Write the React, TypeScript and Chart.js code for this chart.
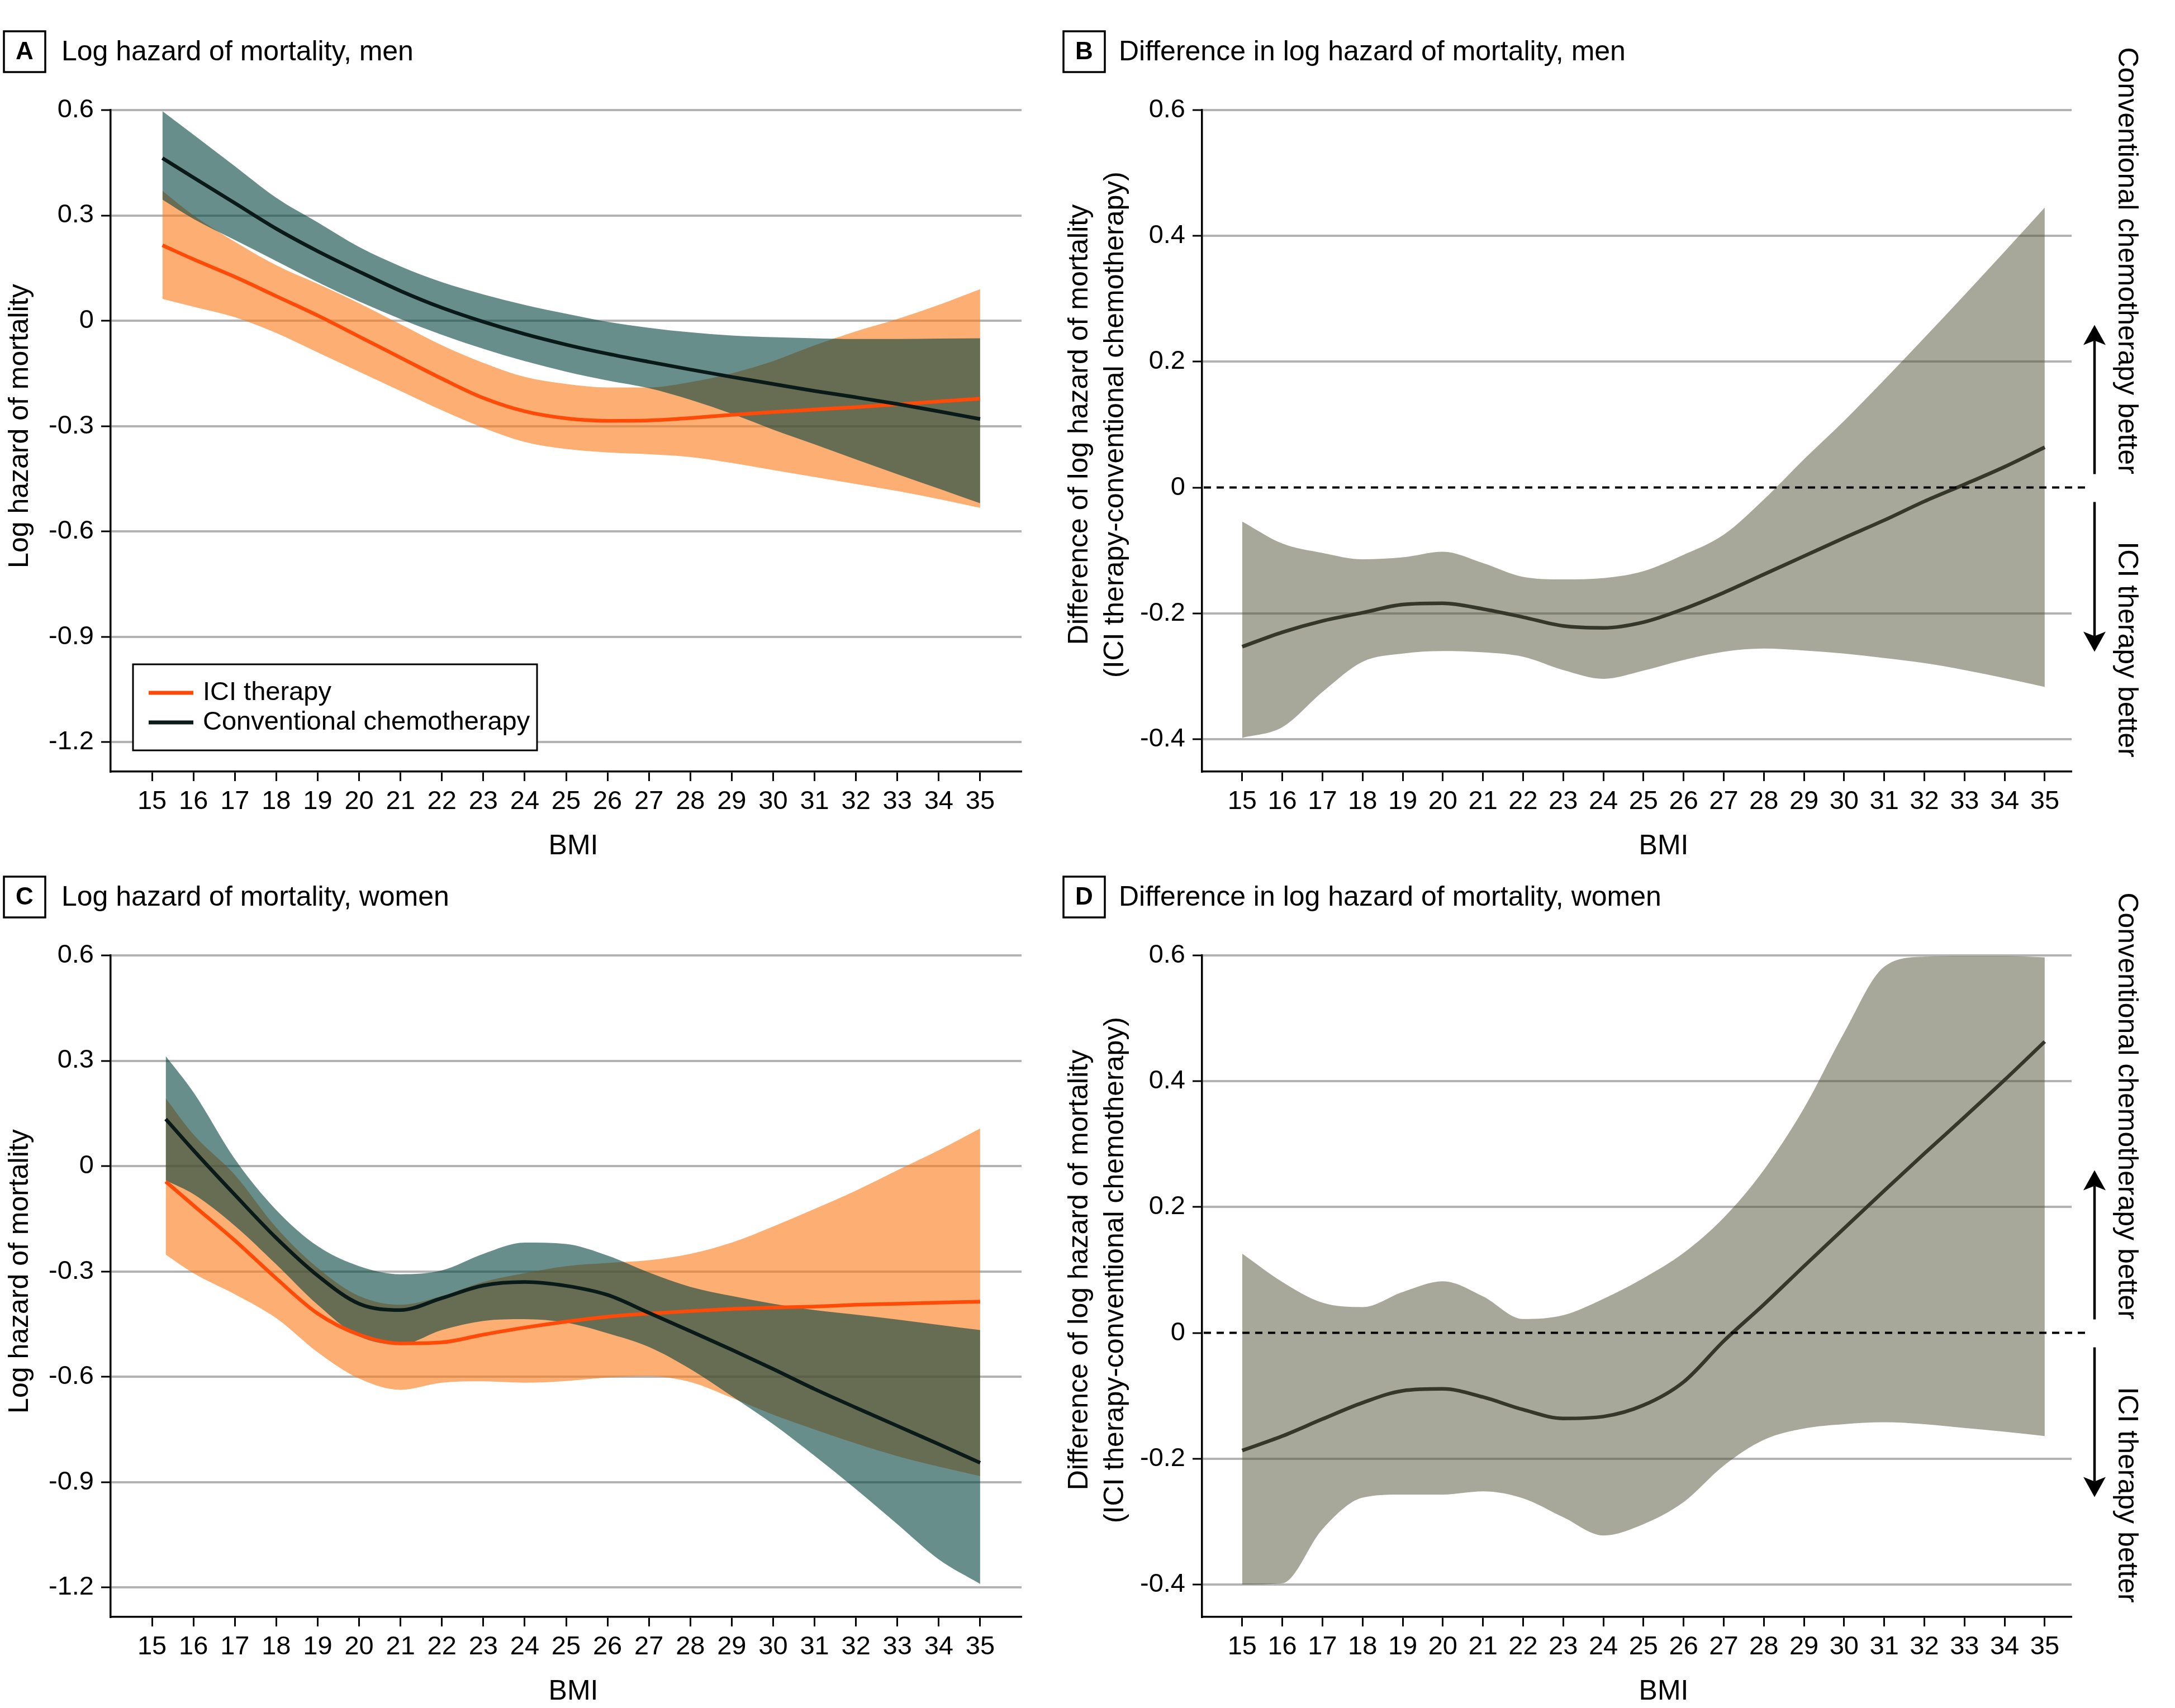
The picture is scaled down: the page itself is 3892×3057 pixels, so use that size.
import React, { useEffect, useRef } from "react";
import { Chart, registerables } from "chart.js";

Chart.register(...registerables);

const FONT = "'Liberation Sans', Arial, Helvetica, sans-serif";

// ---------- tick definitions ----------
const bmiTicks = [15, 16, 17, 18, 19, 20, 21, 22, 23, 24, 25, 26, 27, 28, 29, 30, 31, 32, 33, 34, 35];
const hazardTicks = [-1.2, -0.9, -0.6, -0.3, 0, 0.3, 0.6];
const hazardTickLabels = ["-1.2", "-0.9", "-0.6", "-0.3", "0", "0.3", "0.6"];
const diffTicks = [-0.4, -0.2, 0, 0.2, 0.4, 0.6];
const diffTickLabels = ["-0.4", "-0.2", "0", "0.2", "0.4", "0.6"];

// ---------- Panel A: men, log hazard ----------
const bmiMen = [15.25, 16, 17, 18, 19, 20, 21, 22, 23, 24, 25, 26, 27, 28, 29, 30, 31, 32, 33, 34, 35];
const menIciEst = [0.215, 0.175, 0.125, 0.07, 0.015, -0.045, -0.105, -0.165, -0.22, -0.258, -0.278, -0.285, -0.284, -0.277, -0.268, -0.26, -0.253, -0.246, -0.238, -0.23, -0.222];
const menIciHigh = [0.37, 0.3, 0.225, 0.158, 0.105, 0.05, -0.01, -0.07, -0.12, -0.16, -0.18, -0.19, -0.19, -0.175, -0.15, -0.115, -0.07, -0.03, 0.005, 0.045, 0.09];
const menIciLow = [0.062, 0.04, 0.01, -0.035, -0.09, -0.145, -0.2, -0.255, -0.305, -0.345, -0.365, -0.375, -0.38, -0.388, -0.405, -0.425, -0.445, -0.465, -0.485, -0.508, -0.533];
const menChemoEst = [0.463, 0.408, 0.335, 0.262, 0.198, 0.14, 0.085, 0.037, -0.003, -0.038, -0.068, -0.094, -0.117, -0.139, -0.16, -0.18, -0.2, -0.218, -0.237, -0.258, -0.28];
const menChemoHigh = [0.597, 0.53, 0.44, 0.35, 0.28, 0.21, 0.155, 0.11, 0.075, 0.045, 0.02, -0.003, -0.02, -0.033, -0.042, -0.047, -0.05, -0.052, -0.052, -0.051, -0.05];
const menChemoLow = [0.345, 0.29, 0.23, 0.17, 0.11, 0.055, 0.005, -0.04, -0.08, -0.115, -0.145, -0.17, -0.192, -0.225, -0.265, -0.31, -0.352, -0.395, -0.437, -0.478, -0.52];

// ---------- Panel C: women, log hazard ----------
const bmiWomen = [15.33, 16, 17, 18, 19, 20, 21, 22, 23, 24, 25, 26, 27, 28, 29, 30, 31, 32, 33, 34, 35];
const womenIciEst = [-0.044, -0.112, -0.212, -0.32, -0.42, -0.48, -0.505, -0.502, -0.48, -0.46, -0.443, -0.429, -0.42, -0.413, -0.407, -0.403, -0.4, -0.395, -0.392, -0.389, -0.386];
const womenIciHigh = [0.193, 0.09, -0.025, -0.175, -0.29, -0.37, -0.395, -0.37, -0.33, -0.305, -0.285, -0.276, -0.268, -0.25, -0.218, -0.172, -0.122, -0.07, -0.012, 0.045, 0.107];
const womenIciLow = [-0.252, -0.305, -0.365, -0.433, -0.53, -0.605, -0.637, -0.617, -0.613, -0.617, -0.612, -0.602, -0.598, -0.615, -0.66, -0.708, -0.75, -0.79, -0.826, -0.856, -0.883];
const womenChemoEst = [0.134, 0.045, -0.082, -0.205, -0.312, -0.392, -0.41, -0.376, -0.34, -0.33, -0.341, -0.367, -0.418, -0.47, -0.523, -0.578, -0.635, -0.688, -0.74, -0.792, -0.845];
const womenChemoHigh = [0.313, 0.21, 0.02, -0.125, -0.228, -0.285, -0.308, -0.297, -0.25, -0.218, -0.222, -0.255, -0.303, -0.344, -0.37, -0.392, -0.41, -0.423, -0.437, -0.452, -0.467];
const womenChemoLow = [-0.041, -0.08, -0.17, -0.28, -0.395, -0.485, -0.508, -0.467, -0.441, -0.436, -0.446, -0.476, -0.515, -0.578, -0.655, -0.735, -0.825, -0.92, -1.02, -1.12, -1.19];

// ---------- Panels B / D: difference ----------
const bmiDiff = [15, 16, 17, 18, 19, 20, 21, 22, 23, 24, 25, 26, 27, 28, 29, 30, 31, 32, 33, 34, 35];
const menDiffEst = [-0.253, -0.23, -0.212, -0.199, -0.186, -0.184, -0.193, -0.206, -0.22, -0.223, -0.214, -0.193, -0.167, -0.138, -0.109, -0.08, -0.052, -0.022, 0.005, 0.033, 0.064];
const menDiffHigh = [-0.054, -0.089, -0.104, -0.114, -0.111, -0.102, -0.12, -0.142, -0.146, -0.144, -0.133, -0.107, -0.075, -0.019, 0.045, 0.106, 0.171, 0.238, 0.306, 0.375, 0.445];
const menDiffLow = [-0.398, -0.381, -0.325, -0.277, -0.264, -0.26, -0.262, -0.269, -0.29, -0.304, -0.291, -0.274, -0.261, -0.256, -0.259, -0.264, -0.271, -0.279, -0.29, -0.303, -0.317];
const womenDiffEst = [-0.187, -0.164, -0.137, -0.111, -0.092, -0.089, -0.102, -0.122, -0.136, -0.133, -0.115, -0.078, -0.013, 0.045, 0.106, 0.166, 0.226, 0.285, 0.343, 0.402, 0.463];
const womenDiffHigh = [0.126, 0.081, 0.048, 0.041, 0.065, 0.082, 0.058, 0.022, 0.028, 0.054, 0.087, 0.127, 0.183, 0.259, 0.357, 0.477, 0.582, 0.598, 0.599, 0.599, 0.597];
const womenDiffLow = [-0.4, -0.398, -0.312, -0.262, -0.257, -0.257, -0.252, -0.263, -0.293, -0.322, -0.304, -0.269, -0.211, -0.17, -0.152, -0.145, -0.142, -0.145, -0.151, -0.157, -0.164];

// ---------- styles ----------
const CHEMO_LINE = "#0a1a19";
const ICI_LINE = "#ff4a08";
const TEAL_BAND = "rgba(3,67,63,0.6)";
const ORANGE_BAND = "rgba(251,120,20,0.6)";
const DIFF_BAND = "rgba(79,81,51,0.5)";
const DIFF_LINE = "#35372a";
const GRID = "#b3b3b3";

const CANVAS_H = 1544;
const PLOT_TOP = 197;
const PLOT_BOTTOM = 1381;

const pts = (xs: number[], ys: number[]) => xs.map((x, i) => ({ x, y: ys[i] }));

type Decor = {
  letter: string;
  title: string;
  boxX: number;
  titleX: number;
  yTitle: string[];
  yTitleX: number[];
  bmiX: number;
  legend: boolean;
  annotations: boolean;
  lowestTick: number;
};

function drawArrow(ctx: CanvasRenderingContext2D, x: number, yStart: number, yTip: number) {
  const dir = yTip < yStart ? -1 : 1;
  const headLen = 36;
  const headW = 20;
  const notch = 8;
  ctx.lineWidth = 4.5;
  ctx.beginPath();
  ctx.moveTo(x, yStart);
  ctx.lineTo(x, yTip - dir * (headLen - notch));
  ctx.stroke();
  ctx.beginPath();
  ctx.moveTo(x, yTip);
  ctx.lineTo(x - headW, yTip - dir * headLen);
  ctx.lineTo(x, yTip - dir * (headLen - notch));
  ctx.lineTo(x + headW, yTip - dir * headLen);
  ctx.closePath();
  ctx.fill();
}

function decorPlugin(d: Decor) {
  return {
    id: "decor",
    afterDatasetsDraw(chart: any) {
      if (!d.annotations) return;
      const { ctx, chartArea, scales } = chart;
      const y0 = scales.y.getPixelForValue(0);
      ctx.save();
      ctx.strokeStyle = "#000";
      ctx.lineWidth = 4;
      ctx.setLineDash([13, 10]);
      ctx.beginPath();
      ctx.moveTo(chartArea.left + 3, y0);
      ctx.lineTo(chartArea.right + 29, y0);
      ctx.stroke();
      ctx.restore();
    },
    afterDraw(chart: any) {
      const { ctx, chartArea, scales } = chart;
      ctx.save();
      ctx.fillStyle = "#000";
      ctx.strokeStyle = "#000";
      // header
      ctx.lineWidth = 3.5;
      ctx.strokeRect(d.boxX, 56, 74, 73);
      ctx.font = `bold 44px ${FONT}`;
      ctx.textAlign = "center";
      ctx.textBaseline = "middle";
      ctx.fillText(d.letter, d.boxX + 37, 94);
      ctx.font = `50px ${FONT}`;
      ctx.textAlign = "left";
      ctx.fillText(d.title, d.titleX, 94);
      // y-axis title
      const yTop = scales.y.getPixelForValue(0.6);
      const yBot = scales.y.getPixelForValue(d.lowestTick);
      const yc = (yTop + yBot) / 2;
      d.yTitle.forEach((t, i) => {
        ctx.save();
        ctx.translate(d.yTitleX[i], yc);
        ctx.rotate(-Math.PI / 2);
        ctx.textAlign = "center";
        ctx.textBaseline = "middle";
        ctx.font = `50px ${FONT}`;
        ctx.fillText(t, 0, 0);
        ctx.restore();
      });
      // x-axis title
      ctx.textAlign = "center";
      ctx.textBaseline = "middle";
      ctx.font = `50px ${FONT}`;
      ctx.fillText("BMI", d.bmiX, 1515);
      // legend
      if (d.legend) {
        ctx.fillStyle = "#fff";
        ctx.fillRect(238, 1189, 723, 154);
        ctx.lineWidth = 3;
        ctx.strokeStyle = "#000";
        ctx.strokeRect(238, 1189, 723, 154);
        ctx.lineWidth = 7;
        ctx.strokeStyle = ICI_LINE;
        ctx.beginPath();
        ctx.moveTo(266, 1240);
        ctx.lineTo(346, 1240);
        ctx.stroke();
        ctx.strokeStyle = CHEMO_LINE;
        ctx.beginPath();
        ctx.moveTo(266, 1293);
        ctx.lineTo(346, 1293);
        ctx.stroke();
        ctx.fillStyle = "#000";
        ctx.textAlign = "left";
        ctx.font = `47px ${FONT}`;
        ctx.fillText("ICI therapy", 363, 1240);
        ctx.fillText("Conventional chemotherapy", 363, 1293);
      }
      // right-side annotations
      if (d.annotations) {
        const y0 = scales.y.getPixelForValue(0);
        const ax = chartArea.right + 41;
        ctx.fillStyle = "#000";
        ctx.strokeStyle = "#000";
        drawArrow(ctx, ax, y0 - 24, y0 - 291);
        drawArrow(ctx, ax, y0 + 26, y0 + 294);
        const tx = chartArea.right + 98;
        const texts: [string, number][] = [
          ["Conventional chemotherapy better", y0 - 406],
          ["ICI therapy better", y0 + 290],
        ];
        texts.forEach(([t, y]) => {
          ctx.save();
          ctx.translate(tx, y);
          ctx.rotate(Math.PI / 2);
          ctx.textAlign = "center";
          ctx.textBaseline = "middle";
          ctx.font = `50px ${FONT}`;
          ctx.fillText(t, 0, 0);
          ctx.restore();
        });
      }
      ctx.restore();
    },
  };
}

function buildScales(opts: { xMax: number; yMin: number; yTicks: number[]; yLabels: string[]; yWidth: number; hideZeroGrid: boolean }) {
  return {
    x: {
      type: "linear",
      min: 14,
      max: opts.xMax,
      afterBuildTicks: (s: any) => {
        s.ticks = bmiTicks.map((v) => ({ value: v }));
      },
      afterFit: (s: any) => {
        s.height = CANVAS_H - PLOT_BOTTOM;
      },
      grid: { display: true, drawOnChartArea: false, drawTicks: true, tickLength: 17, tickColor: "#000", tickWidth: 3 },
      border: { display: true, color: "#000", width: 3.5 },
      ticks: {
        color: "#000",
        font: { family: FONT, size: 47 },
        padding: 9,
        autoSkip: false,
        maxRotation: 0,
        minRotation: 0,
        callback: (v: any) => String(v),
      },
      title: { display: false },
    },
    y: {
      type: "linear",
      min: opts.yMin,
      max: 0.6,
      afterBuildTicks: (s: any) => {
        s.ticks = opts.yTicks.map((v) => ({ value: v }));
      },
      afterFit: (s: any) => {
        s.width = opts.yWidth;
      },
      grid: {
        display: true,
        drawOnChartArea: true,
        drawTicks: true,
        tickLength: 17,
        tickColor: "#000",
        tickWidth: 3,
        lineWidth: 4,
        color: (c: any) => (opts.hideZeroGrid && c.tick && c.tick.value === 0 ? "rgba(0,0,0,0)" : GRID),
      },
      border: { display: true, color: "#000", width: 3.5 },
      ticks: {
        color: "#000",
        font: { family: FONT, size: 47 },
        padding: 13,
        callback: (_v: any, i: number) => opts.yLabels[i],
      },
      title: { display: false },
    },
  };
}

const lineBase = { pointRadius: 0, pointHoverRadius: 0, cubicInterpolationMode: "monotone", tension: 0.4 };

function hazardConfig(p: {
  bmi: number[];
  iciEst: number[];
  iciHigh: number[];
  iciLow: number[];
  chemoEst: number[];
  chemoHigh: number[];
  chemoLow: number[];
  decor: Decor;
}) {
  return {
    type: "line",
    data: {
      datasets: [
        { ...lineBase, label: "Conventional chemotherapy", data: pts(p.bmi, p.chemoEst), borderColor: CHEMO_LINE, borderWidth: 6.5, fill: false },
        { ...lineBase, label: "ICI therapy", data: pts(p.bmi, p.iciEst), borderColor: ICI_LINE, borderWidth: 6.5, fill: false },
        { ...lineBase, label: "Conventional chemotherapy upper", data: pts(p.bmi, p.chemoHigh), borderColor: "rgba(0,0,0,0)", borderWidth: 0, backgroundColor: TEAL_BAND, fill: "+1" },
        { ...lineBase, label: "Conventional chemotherapy lower", data: pts(p.bmi, p.chemoLow), borderColor: "rgba(0,0,0,0)", borderWidth: 0, fill: false },
        { ...lineBase, label: "ICI therapy upper", data: pts(p.bmi, p.iciHigh), borderColor: "rgba(0,0,0,0)", borderWidth: 0, backgroundColor: ORANGE_BAND, fill: "+1" },
        { ...lineBase, label: "ICI therapy lower", data: pts(p.bmi, p.iciLow), borderColor: "rgba(0,0,0,0)", borderWidth: 0, fill: false },
      ],
    },
    options: {
      responsive: false,
      maintainAspectRatio: false,
      animation: false,
      devicePixelRatio: 1,
      layout: { padding: { left: 0, top: PLOT_TOP, right: 1880 - 1828, bottom: 0 } },
      plugins: { legend: { display: false }, tooltip: { enabled: false }, title: { display: false } },
      scales: buildScales({ xMax: 36, yMin: -1.284, yTicks: hazardTicks, yLabels: hazardTickLabels, yWidth: 198, hideZeroGrid: false }),
    },
    plugins: [decorPlugin(p.decor)],
  };
}

function diffConfig(p: { bmi: number[]; est: number[]; high: number[]; low: number[]; decor: Decor }) {
  return {
    type: "line",
    data: {
      datasets: [
        { ...lineBase, label: "Difference", data: pts(p.bmi, p.est), borderColor: DIFF_LINE, borderWidth: 6.5, fill: false },
        { ...lineBase, label: "Difference upper", data: pts(p.bmi, p.high), borderColor: "rgba(0,0,0,0)", borderWidth: 0, backgroundColor: DIFF_BAND, fill: "+1" },
        { ...lineBase, label: "Difference lower", data: pts(p.bmi, p.low), borderColor: "rgba(0,0,0,0)", borderWidth: 0, fill: false },
      ],
    },
    options: {
      responsive: false,
      maintainAspectRatio: false,
      animation: false,
      devicePixelRatio: 1,
      layout: { padding: { left: 0, top: PLOT_TOP, right: 2012 - 1827, bottom: 0 } },
      plugins: { legend: { display: false }, tooltip: { enabled: false }, title: { display: false } },
      scales: buildScales({ xMax: 35.67, yMin: -0.4515, yTicks: diffTicks, yLabels: diffTickLabels, yWidth: 271, hideZeroGrid: true }),
    },
    plugins: [decorPlugin(p.decor)],
  };
}

function Panel({ left, top, width, build }: { left: number; top: number; width: number; build: () => any }) {
  const ref = useRef<HTMLCanvasElement>(null);
  useEffect(() => {
    const chart = new Chart(ref.current as HTMLCanvasElement, build());
    return () => chart.destroy();
  }, []);
  return (
    <canvas
      ref={ref}
      width={width}
      height={CANVAS_H}
      style={{ position: "absolute", left, top, width, height: CANVAS_H, display: "block" }}
    />
  );
}

const hazardYTitle = ["Log hazard of mortality"];
const diffYTitle = ["Difference of log hazard of mortality", "(ICI therapy-conventional chemotherapy)"];

export default function App() {
  return (
    <div style={{ position: "absolute", left: 0, top: 0, width: 3892, height: 3057, background: "#fff", overflow: "hidden" }}>
      <Panel
        left={0}
        top={0}
        width={1880}
        build={() =>
          hazardConfig({
            bmi: bmiMen,
            iciEst: menIciEst,
            iciHigh: menIciHigh,
            iciLow: menIciLow,
            chemoEst: menChemoEst,
            chemoHigh: menChemoHigh,
            chemoLow: menChemoLow,
            decor: { letter: "A", title: "Log hazard of mortality, men", boxX: 7, titleX: 110, yTitle: hazardYTitle, yTitleX: [36], bmiX: 1026, legend: true, annotations: false, lowestTick: -1.2 },
          })
        }
      />
      <Panel
        left={1880}
        top={0}
        width={2012}
        build={() =>
          diffConfig({
            bmi: bmiDiff,
            est: menDiffEst,
            high: menDiffHigh,
            low: menDiffLow,
            decor: { letter: "B", title: "Difference in log hazard of mortality, men", boxX: 23, titleX: 122, yTitle: diffYTitle, yTitleX: [52, 116], bmiX: 1097, legend: false, annotations: true, lowestTick: -0.4 },
          })
        }
      />
      <Panel
        left={0}
        top={1513}
        width={1880}
        build={() =>
          hazardConfig({
            bmi: bmiWomen,
            iciEst: womenIciEst,
            iciHigh: womenIciHigh,
            iciLow: womenIciLow,
            chemoEst: womenChemoEst,
            chemoHigh: womenChemoHigh,
            chemoLow: womenChemoLow,
            decor: { letter: "C", title: "Log hazard of mortality, women", boxX: 7, titleX: 110, yTitle: hazardYTitle, yTitleX: [36], bmiX: 1026, legend: false, annotations: false, lowestTick: -1.2 },
          })
        }
      />
      <Panel
        left={1880}
        top={1513}
        width={2012}
        build={() =>
          diffConfig({
            bmi: bmiDiff,
            est: womenDiffEst,
            high: womenDiffHigh,
            low: womenDiffLow,
            decor: { letter: "D", title: "Difference in log hazard of mortality, women", boxX: 23, titleX: 122, yTitle: diffYTitle, yTitleX: [52, 116], bmiX: 1097, legend: false, annotations: true, lowestTick: -0.4 },
          })
        }
      />
    </div>
  );
}
